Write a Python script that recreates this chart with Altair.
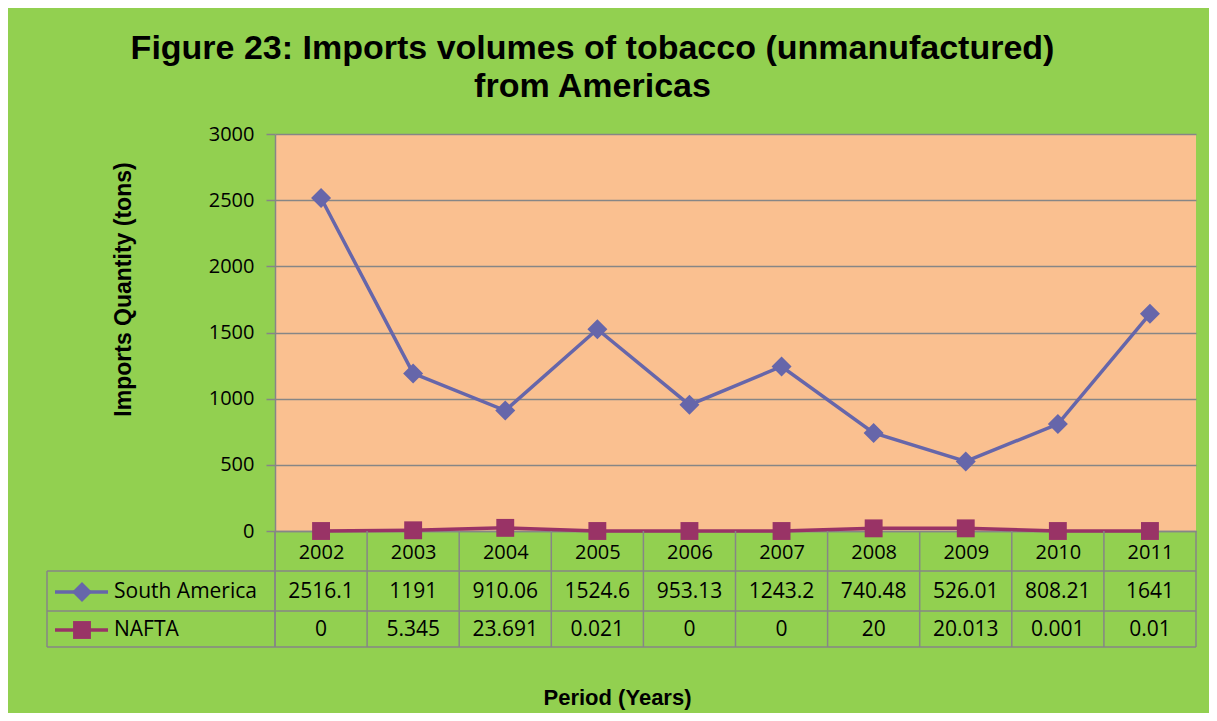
import altair as alt
import pandas as pd

years = [2002, 2003, 2004, 2005, 2006, 2007, 2008, 2009, 2010, 2011]
south_america = [2516.1, 1191, 910.06, 1524.6, 953.13, 1243.2, 740.48, 526.01, 808.21, 1641]
nafta = [0, 5.345, 23.691, 0.021, 0, 0, 20, 20.013, 0.001, 0.01]
series_names = ["South America", "NAFTA"]
series_colors = ["#6666AA", "#993366"]
y_ticks = [0, 500, 1000, 1500, 2000, 2500, 3000]

W, H = 921, 397
GREEN = "#92D050"
ORANGE = "#FAC090"
GRID = "#868686"
NUM_FONT = "Open Sans"
BOLD_FONT = "Liberation Sans"

rows = []
for yr, v in zip(years, south_america):
    rows.append({"year": yr, "series": "South America", "value": v})
for yr, v in zip(years, nafta):
    rows.append({"year": yr, "series": "NAFTA", "value": v})
df = pd.DataFrame(rows)

bounds = pd.DataFrame({"year": [y - 0.5 for y in years] + [years[-1] + 0.5]})
one = pd.DataFrame({"k": [0]})

XT = "Period (Years)"
YT = "Imports Quantity (tons)"
xscale = alt.Scale(domain=[years[0] - 0.5, years[-1] + 0.5], nice=False, zero=False)
yscale = alt.Scale(domain=[0, 3000], nice=False)
cscale = alt.Scale(domain=series_names, range=series_colors)

x_axis = alt.Axis(values=years, format="d", grid=False, domain=True, domainColor=GRID,
                  domainWidth=1.5, ticks=True, tickSize=0, labelPadding=21,
                  labelBaseline="middle", labelFont=NUM_FONT, labelFontSize=20,
                  labelColor="black", titleFont=BOLD_FONT, titleFontSize=22,
                  titleFontWeight="bold", titleColor="black", titleX=342, titleY=166,
                  titleBaseline="middle", titleAlign="center")
y_axis = alt.Axis(values=y_ticks, format="d", grid=True, gridColor=GRID, gridWidth=1.5,
                  domain=True, domainColor=GRID, domainWidth=1.5, ticks=True,
                  tickColor=GRID, tickWidth=1.5, tickSize=9, labelPadding=12,
                  labelFont=NUM_FONT, labelFontSize=20, labelColor="black",
                  titleFont=BOLD_FONT, titleFontSize=23, titleFontWeight="bold",
                  titleColor="black", titleX=-152, titleY=155, titleAngle=-90,
                  titleBaseline="middle", titleAlign="center")

base = alt.Chart(df)

lines = base.mark_line(strokeWidth=3.5).encode(
    x=alt.X("year:Q", scale=xscale, axis=x_axis, title=XT),
    y=alt.Y("value:Q", scale=yscale, axis=y_axis, title=YT),
    color=alt.Color("series:N", scale=cscale, legend=None),
    detail="series:N",
)

points = base.mark_point(filled=True, opacity=1).encode(
    x=alt.X("year:Q", title=XT),
    y=alt.Y("value:Q", title=YT),
    color=alt.Color("series:N", scale=cscale, legend=None),
    shape=alt.Shape("series:N", scale=alt.Scale(domain=series_names, range=["diamond", "square"]), legend=None),
    size=alt.Size("series:N", scale=alt.Scale(domain=series_names, range=[400, 320]), legend=None),
)

# table grid
vrules = alt.Chart(bounds).mark_rule(color=GRID, strokeWidth=1.5).encode(
    x=alt.X("year:Q", title=XT),
    y=alt.value(H), y2=alt.value(H + 116),
)
hr = []
for yy in [H + 40, H + 80, H + 116]:
    hr.append(alt.Chart(one).mark_rule(color=GRID, strokeWidth=1.5).encode(
        x=alt.value(-228), x2=alt.value(W), y=alt.value(yy)))
vleft = alt.Chart(one).mark_rule(color=GRID, strokeWidth=1.5).encode(
    x=alt.value(-228), y=alt.value(H + 40), y2=alt.value(H + 116))
vzero = alt.Chart(one).mark_rule(color=GRID, strokeWidth=1.5).encode(
    x=alt.value(0), y=alt.value(H), y2=alt.value(H + 116))

row_y = {"South America": H + 61, "NAFTA": H + 99}
texts = []
legend_layers = []
shapes = {"South America": ("diamond", 400), "NAFTA": ("square", 320)}
for name, col in zip(series_names, series_colors):
    texts.append(base.transform_filter(alt.datum.series == name).mark_text(
        font=NUM_FONT, fontSize=21, color="black", baseline="middle", align="center").encode(
        x=alt.X("year:Q", title=XT),
        y=alt.value(row_y[name]),
        text=alt.Text("value:Q", format="~g"),
    ))
    ld = pd.DataFrame({"name": [name]})
    legend_layers.append(alt.Chart(ld).mark_rule(color=col, strokeWidth=3.5).encode(
        x=alt.value(-220), x2=alt.value(-167), y=alt.value(row_y[name])))
    legend_layers.append(alt.Chart(ld).mark_point(filled=True, opacity=1, color=col,
        shape=shapes[name][0], size=shapes[name][1]).encode(
        x=alt.value(-193), y=alt.value(row_y[name])))
    legend_layers.append(alt.Chart(ld).mark_text(font=NUM_FONT, fontSize=21, color="black",
        align="left", baseline="middle").encode(
        x=alt.value(-161), y=alt.value(row_y[name]), text="name:N"))

chart = alt.layer(
    lines, vrules, *hr, vleft, vzero, points, *texts, *legend_layers
).properties(
    width=W, height=H,
    title=alt.TitleParams(
        ["Figure 23: Imports volumes of tobacco (unmanufactured)", "from Americas"],
        anchor="middle", dx=-143, fontSize=34, font=BOLD_FONT, fontWeight="bold",
        color="black", lineHeight=38, offset=20,
    ),
    background=GREEN,
    autosize=alt.AutoSizeParams(type="none"),
    padding={"left": 267, "top": 126, "right": 13, "bottom": 182},
).configure_view(fill=ORANGE, stroke=None)

chart.save("out.html", embed_options={"renderer": "svg", "actions": False})
